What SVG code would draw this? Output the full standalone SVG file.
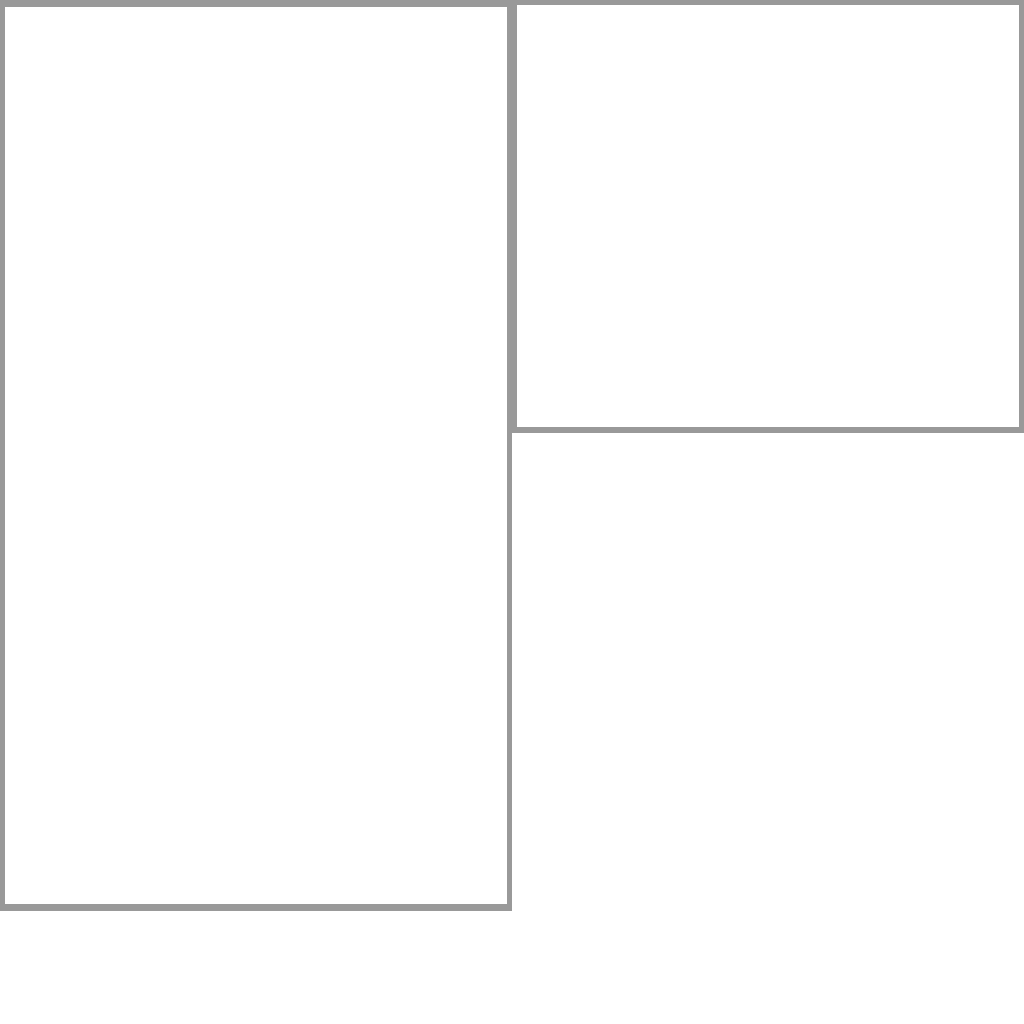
<svg xmlns="http://www.w3.org/2000/svg" width="1024" height="1024" viewBox="0 0 1024 1024">
<style>
.frame{fill:#999999}
.inner{fill:#ffffff}
</style>
<rect x="0" y="0" width="1024" height="1024" fill="#ffffff"/>
<g id="left-panel">
<rect class="frame" x="0" y="0" width="512" height="911"/>
<rect class="inner" x="5" y="7" width="502" height="897"/>
</g>
<g id="right-panel">
<rect class="frame" x="512" y="0" width="512" height="433"/>
<rect class="inner" x="517" y="5" width="502" height="422"/>
</g>
<g id="connectors"></g>
</svg>
